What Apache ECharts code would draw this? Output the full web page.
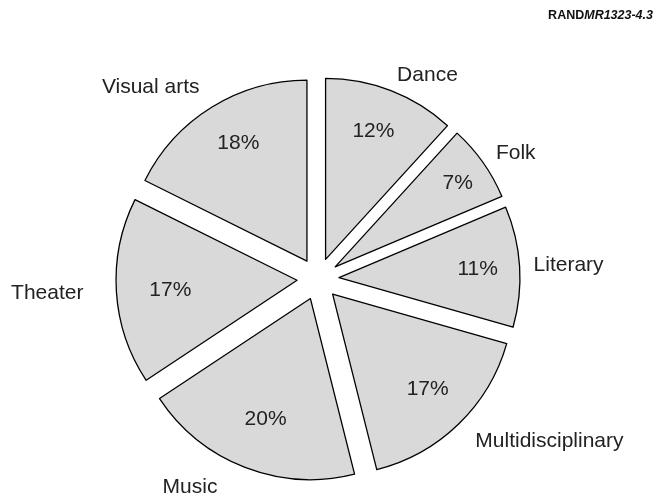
<!DOCTYPE html>
<html>
<head>
<meta charset="utf-8">
<script src="https://cdn.jsdelivr.net/npm/echarts@6/dist/echarts.min.js"></script>
<style>
html,body{margin:0;padding:0;background:#fff;}
#chart{width:660px;height:497px;}
</style>
</head>
<body>
<div id="chart"></div>
<script>
// Data
const categories = ['Dance', 'Folk', 'Literary', 'Multidisciplinary', 'Music', 'Theater', 'Visual arts'];
const shares = [12, 7, 11, 17, 20, 17, 18];

// Layout (styles, not data): label gaps and small nudges per slice
const nameLabelGap = [17, 16, 14, 24, 21, 33, 23];
const nameLabelSide = [0, 0, 0, 0, 20, 0, 0];
const pctNudge = [[-2, 0], [10, -4], [1, 0], [-1, -4], [5, -8], [11, 1], [4, -1]];
const FONT = "'Liberation Sans', Arial, Helvetica, sans-serif";
const CENTER = [318, 279];
const R = 181;
const OFFSET = 21;

function hPad(n) {
  const dx = n[0];
  return [0, dx < 0 ? -2 * dx : 0, 0, dx > 0 ? 2 * dx : 0];
}
function vPad(n) {
  const dy = n[1];
  return [dy > 0 ? 2 * dy : 0, 0, dy < 0 ? -2 * dy : 0, 0];
}

const chart = echarts.init(document.getElementById('chart'), null, {renderer: 'canvas'});

const baseData = categories.map((name, i) => ({
  name: name,
  value: shares[i],
  selected: true,
  labelLine: {show: false, length: nameLabelGap[i], length2: nameLabelSide[i]}
}));
const ringData = categories.map((name, i) => ({
  name: name,
  value: shares[i],
  selected: true,
  label: {
    padding: hPad(pctNudge[i]),
    rich: {p: {fontFamily: FONT, fontSize: 21, color: '#222', padding: vPad(pctNudge[i])}}
  }
}));

const option = {
  animation: false,
  backgroundColor: '#ffffff',
  title: {
    text: '{b|RAND}{i|MR1323-4.3}',
    right: 2,
    top: 4,
    textStyle: {
      rich: {
        b: {fontFamily: FONT, fontSize: 12.5, fontWeight: 'bold', color: '#111'},
        i: {fontFamily: FONT, fontSize: 12.5, fontStyle: 'italic', color: '#111'}
      }
    }
  },
  series: [
    {
      type: 'pie',
      center: CENTER,
      radius: [0, R],
      startAngle: 90,
      clockwise: true,
      selectedMode: 'multiple',
      selectedOffset: OFFSET,
      avoidLabelOverlap: false,
      silent: true,
      itemStyle: {color: '#d9d9d9', borderColor: '#000', borderWidth: 1.3},
      label: {
        show: true,
        position: 'outside',
        formatter: '{b}',
        fontFamily: FONT,
        fontSize: 21,
        color: '#222',
        distanceToLabelLine: 0,
        alignTo: 'none'
      },
      labelLine: {show: false},
      emphasis: {disabled: true},
      data: baseData
    },
    {
      type: 'pie',
      center: CENTER,
      radius: [89, R],
      startAngle: 90,
      clockwise: true,
      selectedMode: 'multiple',
      selectedOffset: OFFSET,
      avoidLabelOverlap: false,
      silent: true,
      itemStyle: {color: 'rgba(0,0,0,0)', borderWidth: 0},
      label: {
        show: true,
        position: 'inside',
        formatter: '{p|{c}%}',
        fontFamily: FONT,
        fontSize: 21,
        color: '#222'
      },
      labelLine: {show: false},
      emphasis: {disabled: true},
      data: ringData
    }
  ]
};
chart.setOption(option);
</script>
</body>
</html>
